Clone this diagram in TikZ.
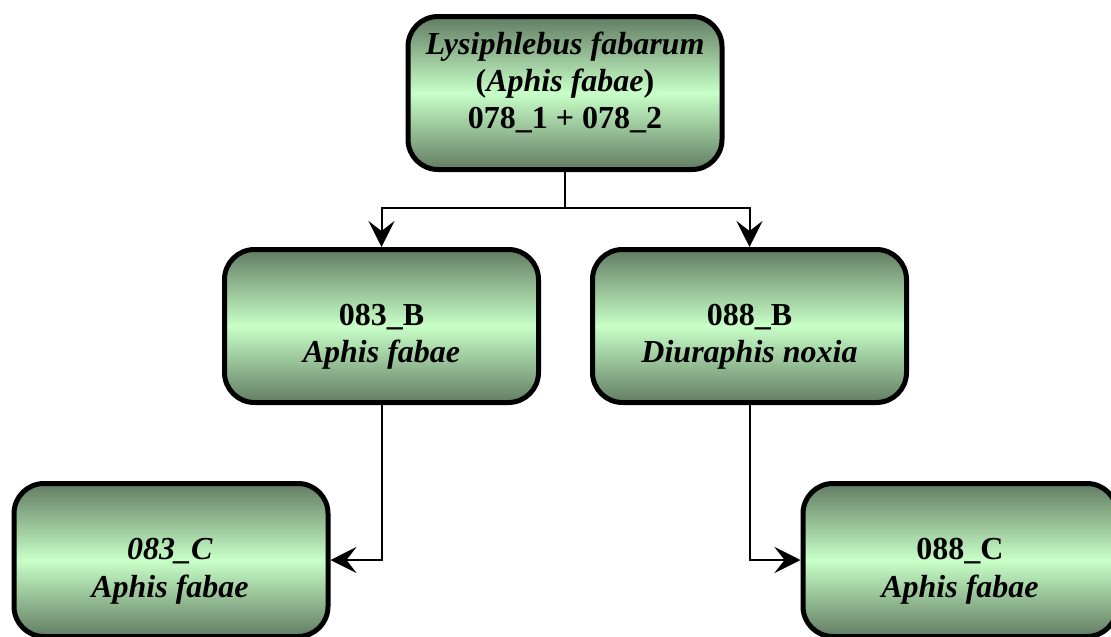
\documentclass[tikz,border=0pt]{standalone}
\usepackage{fontspec}
\setmainfont{Liberation Serif}
\usetikzlibrary{arrows.meta}
\definecolor{boxdark}{RGB}{98,124,98}
\definecolor{boxlight}{RGB}{200,255,200}
\begin{document}
\begin{tikzpicture}[x=1pt,y=-1pt,
  box/.style={draw=black, line width=5pt, rounded corners=30pt,
    top color=boxdark, bottom color=boxdark, middle color=boxlight,
    minimum width=314pt, minimum height=153pt, inner sep=0pt},
  txt/.style={anchor=base, font=\fontsize{32}{37}\selectfont\bfseries, inner sep=0pt},
  conn/.style={line width=2pt},
  arr/.style={conn, -{Stealth[length=26pt,width=26pt,inset=10pt]}}]
\useasboundingbox (0,0) rectangle (1111,637);
\node[box] (top) at (565,93) {};
\node[box] (b1) at (381.5,326) {};
\node[box] (b2) at (749.5,326) {};
\node[box] (c1) at (171,560) {};
\node[box] (c2) at (960,560) {};
% texts
\node[txt] (t1) at (565,54) {\textit{Lysiphlebus fabarum}};
\node[txt] (t2) at (565,91) {(\textit{Aphis fabae})};
\node[txt] (t3) at (565,128) {078\_1 + 078\_2};
\node[txt] (b1a) at (381.5,325) {083\_B};
\node[txt] (b1b) at (381.5,362) {\textit{Aphis fabae}};
\node[txt] (b2a) at (749.5,325) {088\_B};
\node[txt] (b2b) at (749.5,362) {\textit{Diuraphis noxia}};
\node[txt] (c1a) at (170,559) {\textit{083\_C}};
\node[txt] (c1b) at (170,597) {\textit{Aphis fabae}};
\node[txt] (c2a) at (960,559) {088\_C};
\node[txt] (c2b) at (960,597) {\textit{Aphis fabae}};
% connectors
\draw[conn] (top.south) -- ++(0,36) coordinate (j);
\draw[arr] (j) -| (b1.north);
\draw[arr] (j) -| (b2.north);
\draw[arr] (b1.south) |- (c1.east);
\draw[arr] (b2.south) |- (c2.west);
\end{tikzpicture}
\end{document}
